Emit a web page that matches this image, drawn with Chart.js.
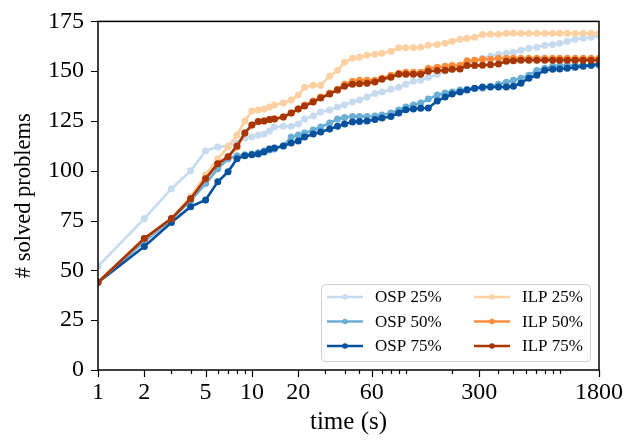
<!DOCTYPE html>
<html>
<head>
<meta charset="utf-8">
<script src="https://cdn.jsdelivr.net/npm/chart.js@4.4.0/dist/chart.umd.min.js"></script>
<style>
    html, body { margin: 0; padding: 0; background: #fff; }
</style>
</head>
<body>
<canvas id="solved-chart" width="638" height="441"></canvas>
<script>
// time samples (s)
const times = [
    1, 2, 3, 4, 5, 6, 7, 8, 9, 10,
    11, 12, 13, 14, 16, 18, 20, 22, 25, 28,
    32, 36, 40, 45, 50, 56, 63, 70, 80, 90,
    100, 112, 125, 140, 160, 180, 200, 225, 250, 280,
    315, 355, 400, 450, 500, 560, 630, 710, 800, 900,
    1000, 1120, 1260, 1420, 1600, 1800
];

// # solved problems per series
const osp25 = [
    52, 76, 91, 100, 110, 112, 112.5, 114, 116.5, 117,
    118, 118.5, 120, 122, 122.4, 122.4, 123.5, 126, 127.5, 129.5,
    130.5, 132, 133, 134.5, 135.5, 137, 138.8, 139.5, 141, 142,
    143.5, 145, 145.4, 147, 148.5, 150, 151, 152, 153.5, 155,
    156.5, 157.5, 158.5, 159, 159.5, 160.5, 161.5, 162, 163, 163.4,
    164, 165, 166, 166.5, 167, 168
];
const osp50 = [
    44, 64.5, 75.5, 85, 93.6, 101, 106, 107.5, 108, 108.4,
    109, 110, 110.5, 111, 112.5, 117, 118, 119, 120.5, 122,
    124, 126, 126.8, 127.3, 127.3, 127.3, 127.5, 128, 129, 130.5,
    132, 133, 134, 136, 138, 139, 139.6, 140.5, 141, 141.3,
    141.5, 142.5, 143.5, 144.5, 145.5, 146.5, 148, 150.3, 151.5, 152.5,
    152.8, 153, 153, 153, 153, 153
];
const osp75 = [
    44, 62, 74, 82, 85.4, 94.5, 99.5, 106, 107.6, 108,
    108.4, 109.5, 110.9, 111.5, 112.5, 114, 115, 117, 118.5, 119.5,
    121, 122.4, 123.5, 124.5, 124.8, 125, 125.7, 126.5, 127.3, 129,
    130.6, 131, 131.4, 131.5, 135, 137, 138.5, 139.6, 140.5, 141.5,
    142.1, 142.1, 142.1, 142.1, 142.5, 144, 146.5, 148, 150.5, 151,
    151.1, 151.5, 152, 152.5, 153, 153.6
];
const ilp25 = [
    44, 66, 76, 87, 98, 106, 112, 118, 125, 130,
    130.5, 131, 132, 133, 134, 135.5, 138, 142, 143, 143,
    147.5, 150.5, 154.5, 156.5, 157, 158, 158.5, 159, 160, 161.8,
    161.8, 161.8, 162, 163, 163.4, 164, 165, 166, 166.5, 167,
    168.4, 168.5, 168.5, 169, 169, 169, 169, 169, 169, 169,
    169, 169, 169, 169, 169, 169
];
const ilp50 = [
    44, 66, 76, 86, 96, 103.5, 107, 112, 119, 123,
    124.8, 125, 125.7, 126, 127, 129, 131, 133, 135, 137,
    139, 141, 143.5, 145, 145.4, 145.4, 145.5, 146.5, 148, 149,
    149.5, 149.5, 149.5, 151.5, 152, 152.5, 152.8, 153, 155.2, 155.5,
    156, 156, 156.5, 156.5, 156.5, 156.5, 156.5, 156.5, 156.5, 156.5,
    156.5, 156.5, 156.5, 156.5, 156.5, 156.5
];
const ilp75 = [
    44, 66, 76, 86, 96, 103.5, 107, 112.5, 119, 123,
    124.8, 125, 125.7, 126, 127, 129, 131, 132.5, 134.5, 136.5,
    138.5, 140.5, 142.5, 143.5, 143.7, 144, 144.6, 146, 147, 148.5,
    148.5, 148.5, 148.5, 150, 150.3, 150.5, 151, 151.1, 152.8, 152.8,
    153, 153.2, 153.6, 155, 155.3, 155.5, 155.5, 155.5, 155.5, 155.5,
    155.5, 155.5, 155.5, 155.5, 155.5, 155.5
];

const seriesLabels = ['OSP 25%', 'OSP 50%', 'OSP 75%', 'ILP 25%', 'ILP 50%', 'ILP 75%'];
const seriesColors = ['#c6dbef', '#6baed6', '#08519c', '#fdd0a2', '#fd8d3c', '#a63603'];
const allSeries = [osp25, osp50, osp75, ilp25, ilp50, ilp75];

const xTickLabels = [1, 2, 5, 10, 20, 60, 300, 1800];
const xMinorTicks = [3, 4, 6, 7, 8, 9, 30, 40, 50, 70, 80, 90, 100, 200, 400, 500, 600, 700, 800, 900, 1000];
const yTicks = [0, 25, 50, 75, 100, 125, 150, 175];

const serif = '"Liberation Serif", "Times New Roman", serif';

// axes frame, tick marks and the legend box
const frameAndLegend = {
    id: 'frameAndLegend',
    afterDraw(chart) {
        const { ctx, chartArea: a, scales: { x, y } } = chart;
        ctx.save();
        ctx.strokeStyle = '#000';
        ctx.lineWidth = 1.5;
        ctx.strokeRect(a.left, a.top, a.right - a.left, a.bottom - a.top);

        ctx.beginPath();
        x.ticks.forEach(t => {
            const px = Math.round(x.getPixelForValue(t.value)) + 0.5;
            const len = xTickLabels.includes(t.value) ? 7 : 4;
            ctx.moveTo(px, a.bottom);
            ctx.lineTo(px, a.bottom + len);
        });
        yTicks.forEach(v => {
            const py = Math.round(y.getPixelForValue(v)) + 0.5;
            ctx.moveTo(a.left - 7, py);
            ctx.lineTo(a.left, py);
        });
        ctx.lineWidth = 1.2;
        ctx.stroke();

        // legend
        const w = 269, h = 77;
        const left = a.right - 9 - w, top = a.bottom - 9 - h;
        ctx.beginPath();
        ctx.roundRect(left + 0.5, top + 0.5, w, h, 4);
        ctx.fillStyle = 'rgba(255,255,255,0.8)';
        ctx.fill();
        ctx.strokeStyle = '#d0d0d0';
        ctx.lineWidth = 1;
        ctx.stroke();

        ctx.font = '17px ' + serif;
        ctx.textBaseline = 'middle';
        ctx.textAlign = 'left';
        chart.data.datasets.forEach((ds, i) => {
            const col = Math.floor(i / 3), row = i % 3;
            const lx = left + 6 + col * 147;
            const ly = top + 13 + row * 24.5;
            ctx.strokeStyle = ds.borderColor;
            ctx.lineWidth = 2.5;
            ctx.beginPath();
            ctx.moveTo(lx, ly);
            ctx.lineTo(lx + 36, ly);
            ctx.stroke();
            ctx.fillStyle = ds.borderColor;
            ctx.beginPath();
            ctx.arc(lx + 18, ly, 2.8, 0, Math.PI * 2);
            ctx.fill();
            ctx.fillStyle = '#000';
            ctx.fillText(ds.label, lx + 48, ly + 1);
        });
        ctx.restore();
    }
};

const ctx = document.getElementById('solved-chart').getContext('2d');

new Chart(ctx, {
    type: 'line',
    data: {
        datasets: allSeries.map((vals, i) => ({
            label: seriesLabels[i],
            data: times.map((t, j) => ({ x: t, y: vals[j] })),
            borderColor: seriesColors[i],
            backgroundColor: seriesColors[i],
            borderWidth: 2.6,
            pointRadius: 3.5,
            pointBorderWidth: 0,
            tension: 0,
            order: 6 - i
        }))
    },
    options: {
        responsive: false,
        animation: false,
        devicePixelRatio: 1,
        layout: { padding: { left: 0, top: 15, right: 39, bottom: 0 } },
        plugins: {
            legend: { display: false },
            tooltip: { enabled: false }
        },
        scales: {
            x: {
                type: 'logarithmic',
                min: 1,
                max: 1800,
                afterBuildTicks: scale => {
                    scale.ticks = xTickLabels.concat(xMinorTicks)
                        .sort((p, q) => p - q)
                        .map(v => ({ value: v }));
                },
                afterFit: scale => { scale.height = 71; },
                ticks: {
                    autoSkip: false,
                    maxRotation: 0,
                    padding: 1,
                    color: '#000',
                    font: { family: serif, size: 24 },
                    callback: v => xTickLabels.includes(v) ? String(v) : ''
                },
                grid: { display: true, drawOnChartArea: false, color: 'rgba(0,0,0,0)', tickLength: 7 },
                border: { display: false },
                title: {
                    display: true,
                    text: 'time (s)',
                    color: '#000',
                    font: { family: serif, size: 25 },
                    padding: { top: 0, bottom: 4 }
                }
            },
            y: {
                min: 0,
                max: 175,
                afterBuildTicks: scale => {
                    scale.ticks = yTicks.map(v => ({ value: v }));
                },
                afterFit: scale => { scale.width = 98; },
                ticks: {
                    padding: 7,
                    color: '#000',
                    font: { family: serif, size: 24 }
                },
                grid: { display: true, drawOnChartArea: false, color: 'rgba(0,0,0,0)', tickLength: 7 },
                border: { display: false },
                title: {
                    display: true,
                    text: '# solved problems',
                    color: '#000',
                    font: { family: serif, size: 22.5 },
                    padding: { top: 11, bottom: 0 }
                }
            }
        }
    },
    plugins: [frameAndLegend]
});
</script>
</body>
</html>
